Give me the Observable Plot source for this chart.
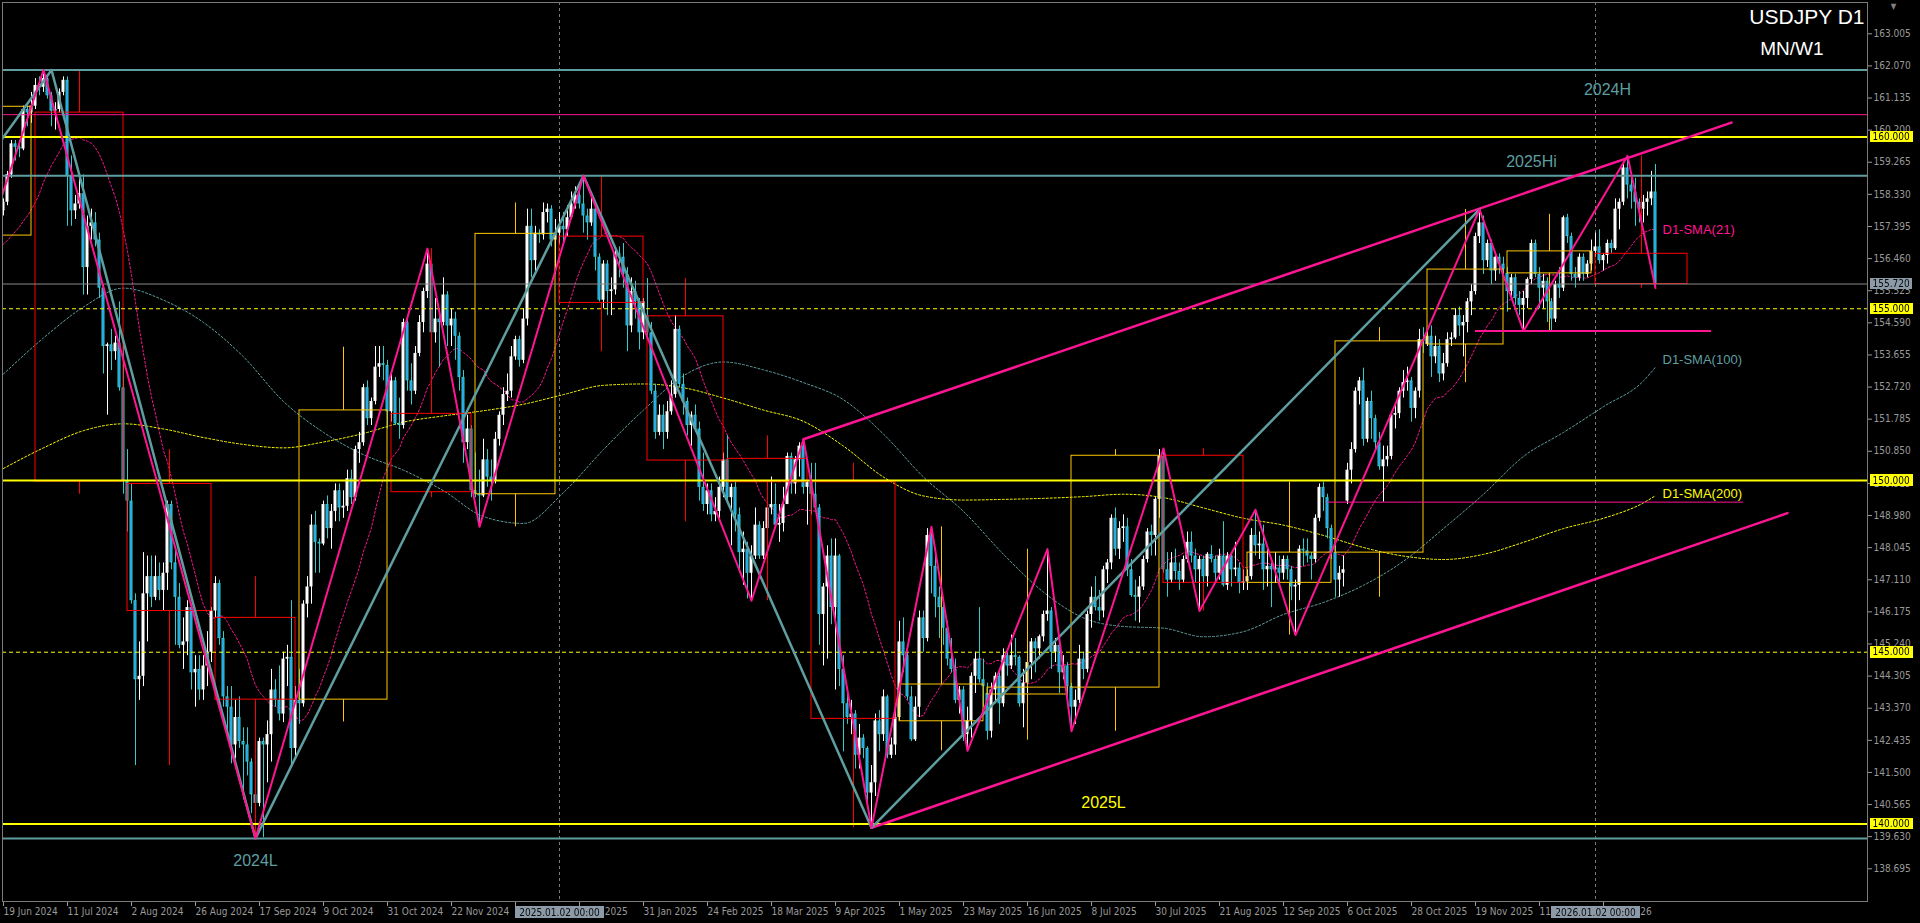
<!DOCTYPE html>
<html>
<head>
<meta charset="utf-8">
<script src="https://cdn.jsdelivr.net/npm/d3@7"></script>
<script src="https://cdn.jsdelivr.net/npm/@observablehq/plot@0.6"></script>
<style>
html,body{margin:0;padding:0;background:#000;overflow:hidden}
#chart svg{display:block}
g[aria-description="yellow-tags"] text{filter:url(#tagYellow)}
g[aria-description="gray-tags"] text{filter:url(#tagGray)}
</style>
</head>
<body>
<svg width="0" height="0" style="position:absolute">
<defs>
<filter id="tagYellow" x="-0.06" y="0.02" width="1.12" height="0.96"><feFlood flood-color="#ffff00" result="bg"/><feMerge><feMergeNode in="bg"/><feMergeNode in="SourceGraphic"/></feMerge></filter>
<filter id="tagGray" x="-0.05" y="0.02" width="1.1" height="0.96"><feFlood flood-color="#8d9aa8" result="bg"/><feMerge><feMergeNode in="bg"/><feMergeNode in="SourceGraphic"/></feMerge></filter>
</defs>
</svg>
<div id="chart"></div>
<script>
// ---------------- DATA ----------------
// Daily USDJPY candles: [date, open, high, low, close]
const dailyOHLC = [
["2024-05-20",155.7,156.3,155.5,156.2],["2024-05-21",156.2,156.4,155.8,156.25],["2024-05-22",156.25,156.8,156.0,156.8],["2024-05-23",156.8,157.2,156.6,156.95],["2024-05-24",156.95,157.2,156.8,157.0],
["2024-05-27",157.0,157.05,156.6,156.85],["2024-05-28",156.85,157.3,156.7,157.2],["2024-05-29",157.2,157.7,157.1,157.6],["2024-05-30",157.6,157.65,156.4,156.8],["2024-05-31",156.8,157.3,156.6,157.25],
["2024-06-03",157.25,157.3,156.0,156.1],["2024-06-04",156.1,156.2,154.6,154.8],["2024-06-05",154.8,156.4,154.55,156.1],["2024-06-06",156.1,156.2,155.4,155.6],["2024-06-07",155.6,157.0,155.0,156.7],
["2024-06-10",156.7,157.2,156.6,157.0],["2024-06-11",157.0,157.2,156.8,157.1],["2024-06-12",157.1,157.3,155.7,156.7],["2024-06-13",156.7,157.2,156.5,157.05],["2024-06-14",157.05,158.3,156.5,157.4],
["2024-06-17",157.4,157.8,157.2,157.7],["2024-06-18",157.7,158.0,157.6,157.85],["2024-06-19",157.85,158.2,157.7,158.1],["2024-06-20",158.1,159.0,158.0,158.9],["2024-06-21",158.9,159.9,158.8,159.8],
["2024-06-24",159.8,159.9,159.3,159.7],["2024-06-25",159.7,159.9,159.4,159.65],["2024-06-26",159.65,160.9,159.6,160.8],["2024-06-27",160.8,160.9,160.3,160.7],["2024-06-28",160.7,161.3,160.4,160.9],
["2024-07-01",160.9,161.7,160.8,161.5],["2024-07-02",161.5,161.75,161.2,161.45],["2024-07-03",161.45,161.95,161.3,161.7],["2024-07-04",161.7,161.8,161.1,161.2],["2024-07-05",161.2,161.3,160.3,160.75],
["2024-07-08",160.75,161.0,160.2,160.8],["2024-07-09",160.8,161.4,160.7,161.3],["2024-07-10",161.3,161.75,161.2,161.65],["2024-07-11",161.65,161.75,157.4,158.85],["2024-07-12",158.85,159.45,157.4,157.85],
["2024-07-15",157.85,158.3,157.6,158.05],["2024-07-16",158.05,158.9,157.9,158.35],["2024-07-17",158.35,158.9,155.4,156.2],["2024-07-18",156.2,157.7,155.4,157.4],["2024-07-19",157.4,157.9,157.0,157.5],
["2024-07-22",157.5,157.8,156.8,157.0],["2024-07-23",157.0,157.2,155.3,155.6],["2024-07-24",155.6,155.7,153.1,153.9],["2024-07-25",153.9,154.0,151.9,153.95],["2024-07-26",153.95,154.4,153.2,153.75],
["2024-07-29",153.75,154.2,153.5,154.0],["2024-07-30",154.0,155.2,152.6,152.7],["2024-07-31",152.7,153.9,149.6,150.0],["2024-08-01",150.0,150.9,148.5,149.4],["2024-08-02",149.4,149.9,146.4,146.5],
["2024-08-05",146.5,146.7,141.7,144.2],["2024-08-06",144.2,145.3,143.6,144.3],["2024-08-07",144.3,147.9,144.0,146.7],["2024-08-08",146.7,147.8,145.3,147.2],["2024-08-09",147.2,147.8,146.3,146.6],
["2024-08-12",146.6,147.8,146.5,147.2],["2024-08-13",147.2,147.6,146.5,146.8],["2024-08-14",146.8,147.6,146.2,147.3],["2024-08-15",147.3,149.4,146.8,149.3],["2024-08-16",149.3,149.4,147.4,147.6],
["2024-08-19",147.6,148.0,145.2,146.6],["2024-08-20",146.6,147.0,145.1,145.2],["2024-08-21",145.2,146.0,144.5,145.3],["2024-08-22",145.3,146.5,144.9,146.3],["2024-08-23",146.3,146.4,143.9,144.4],
["2024-08-26",144.4,144.9,143.4,144.5],["2024-08-27",144.5,144.9,143.6,143.9],["2024-08-28",143.9,144.9,143.6,144.6],["2024-08-29",144.6,145.6,144.0,145.0],["2024-08-30",145.0,146.3,144.7,146.2],
["2024-09-02",146.2,147.2,146.0,147.0],["2024-09-03",147.0,147.1,145.2,145.4],["2024-09-04",145.4,145.6,143.4,143.7],["2024-09-05",143.7,144.0,142.7,143.4],["2024-09-06",143.4,144.0,141.75,142.3],
["2024-09-09",142.3,143.6,141.9,143.1],["2024-09-10",143.1,143.7,142.2,142.4],["2024-09-11",142.4,142.8,140.7,142.3],["2024-09-12",142.3,142.8,141.4,141.8],["2024-09-13",141.8,141.9,140.3,140.85],
["2024-09-16",140.85,141.0,139.58,140.6],["2024-09-17",140.6,142.5,140.5,142.4],["2024-09-18",142.4,142.5,139.6,142.3],["2024-09-19",142.3,143.0,141.2,142.6],["2024-09-20",142.6,144.5,141.8,143.9],
["2024-09-23",143.9,144.2,143.4,143.6],["2024-09-24",143.6,144.6,143.0,143.2],["2024-09-25",143.2,145.0,142.95,144.8],["2024-09-26",144.8,145.2,144.0,144.85],["2024-09-27",144.85,146.5,141.65,142.2],
["2024-09-30",142.2,144.0,141.9,143.6],["2024-10-01",143.6,144.5,142.9,143.5],["2024-10-02",143.5,146.5,143.4,146.4],["2024-10-03",146.4,147.2,146.0,146.9],["2024-10-04",146.9,149.0,146.4,148.7],
["2024-10-07",148.7,149.1,147.3,148.2],["2024-10-08",148.2,148.3,147.3,148.15],["2024-10-09",148.15,149.4,148.1,149.3],["2024-10-10",149.3,149.55,148.3,148.6],["2024-10-11",148.6,149.3,148.0,149.1],
["2024-10-14",149.1,149.9,148.8,149.7],["2024-10-15",149.7,149.9,148.8,149.2],["2024-10-16",149.2,149.7,148.9,149.25],["2024-10-17",149.25,150.3,149.1,150.05],["2024-10-18",150.05,150.3,149.3,149.5],
["2024-10-21",149.5,151.0,149.4,150.9],["2024-10-22",150.9,151.4,150.5,151.1],["2024-10-23",151.1,152.8,151.0,152.7],["2024-10-24",152.7,152.9,151.6,151.8],["2024-10-25",151.8,152.4,151.6,152.3],
["2024-10-28",152.3,153.9,152.2,153.3],["2024-10-29",153.3,153.9,153.0,153.4],["2024-10-30",153.4,153.9,152.9,153.35],["2024-10-31",153.35,153.5,151.5,152.0],["2024-11-01",152.0,153.1,151.7,152.9],
["2024-11-04",152.9,153.0,151.6,151.65],["2024-11-05",151.65,152.4,151.2,151.6],["2024-11-06",151.6,154.7,151.5,154.6],["2024-11-07",154.6,154.7,152.6,152.9],["2024-11-08",152.9,153.4,152.2,152.6],
["2024-11-11",152.6,153.9,152.5,153.7],["2024-11-12",153.7,154.8,153.6,154.6],["2024-11-13",154.6,155.6,154.3,155.5],["2024-11-14",155.5,156.75,155.3,156.3],["2024-11-15",156.3,156.4,153.9,154.3],
["2024-11-18",154.3,155.3,154.0,154.7],["2024-11-19",154.7,155.0,153.3,154.6],["2024-11-20",154.6,155.9,154.5,155.4],["2024-11-21",155.4,155.5,153.9,154.5],["2024-11-22",154.5,155.0,153.9,154.7],
["2024-11-25",154.7,154.9,153.5,154.2],["2024-11-26",154.2,154.3,152.6,153.0],["2024-11-27",153.0,153.2,150.5,151.1],["2024-11-28",151.1,151.9,150.9,151.5],["2024-11-29",151.5,151.6,149.5,149.7],
["2024-12-02",149.7,150.8,149.5,149.6],["2024-12-03",149.6,150.3,148.65,149.55],["2024-12-04",149.55,151.2,149.5,150.6],["2024-12-05",150.6,150.9,149.8,150.1],["2024-12-06",150.1,150.6,149.4,150.0],
["2024-12-09",150.0,151.4,149.9,151.2],["2024-12-10",151.2,152.0,151.0,151.9],["2024-12-11",151.9,152.7,151.6,152.5],["2024-12-12",152.5,153.1,152.3,152.6],["2024-12-13",152.6,153.9,152.4,153.6],
["2024-12-16",153.6,154.2,153.5,154.1],["2024-12-17",154.1,154.2,153.3,153.5],["2024-12-18",153.5,155.0,153.4,154.7],["2024-12-19",154.7,157.9,154.5,157.4],["2024-12-20",157.4,157.9,155.9,156.4],
["2024-12-23",156.4,157.4,156.0,157.2],["2024-12-24",157.2,157.3,156.9,157.15],["2024-12-26",157.15,158.08,157.0,157.8],["2024-12-27",157.8,158.05,157.5,157.9],["2024-12-30",157.9,158.0,156.8,157.0],
["2024-12-31",157.0,157.6,156.0,157.2],["2025-01-02",157.2,157.8,156.9,157.4],["2025-01-03",157.4,157.8,156.9,157.3],["2025-01-06",157.3,158.0,157.1,157.65],["2025-01-07",157.65,158.4,157.6,158.05],
["2025-01-08",158.05,158.55,157.9,158.3],["2025-01-09",158.3,158.4,157.9,158.05],["2025-01-10",158.05,158.87,157.2,157.7],["2025-01-13",157.7,157.9,157.0,157.5],["2025-01-14",157.5,158.2,157.4,157.9],
["2025-01-15",157.9,158.0,156.1,156.5],["2025-01-16",156.5,156.6,155.2,155.25],["2025-01-17",155.25,156.4,155.0,156.3],["2025-01-20",156.3,156.4,154.8,155.5],["2025-01-21",155.5,155.9,154.8,155.55],
["2025-01-22",155.55,156.8,155.4,156.6],["2025-01-23",156.6,156.8,155.9,156.5],["2025-01-24",156.5,156.9,155.6,156.0],["2025-01-27",156.0,156.2,153.75,154.5],["2025-01-28",154.5,155.9,154.3,155.5],
["2025-01-29",155.5,155.8,154.7,155.2],["2025-01-30",155.2,155.3,153.8,154.3],["2025-01-31",154.3,155.3,154.1,155.2],["2025-02-03",154.8,155.88,154.2,154.3],["2025-02-04",154.3,154.6,152.5,152.6],
["2025-02-05",152.6,152.8,151.2,151.4],["2025-02-06",151.4,152.2,151.3,151.9],["2025-02-07",151.9,152.2,150.9,151.4],["2025-02-10",151.4,152.3,151.2,152.0],["2025-02-11",152.0,152.9,151.9,152.5],
["2025-02-12",152.5,154.8,152.4,154.4],["2025-02-13",154.4,154.5,152.7,152.8],["2025-02-14",152.8,153.1,151.9,152.3],["2025-02-17",152.3,152.4,151.3,151.6],["2025-02-18",151.6,152.0,151.0,151.9],
["2025-02-19",151.9,152.2,151.4,151.5],["2025-02-20",151.5,151.7,149.4,149.8],["2025-02-21",149.8,150.8,149.1,149.3],["2025-02-24",149.3,149.9,149.0,149.7],["2025-02-25",149.7,149.9,148.8,149.0],
["2025-02-26",149.0,149.5,148.8,149.1],["2025-02-27",149.1,150.1,148.8,149.8],["2025-02-28",149.8,150.8,149.5,150.6],["2025-03-03",150.6,151.3,149.4,149.5],["2025-03-04",149.5,149.9,148.1,149.8],
["2025-03-05",149.8,150.0,148.5,149.0],["2025-03-06",149.0,149.2,147.3,147.9],["2025-03-07",147.9,148.5,146.95,148.0],["2025-03-10",148.0,148.2,146.55,147.3],["2025-03-11",147.3,148.1,146.5,147.8],
["2025-03-12",147.8,149.2,147.7,148.7],["2025-03-13",148.7,148.8,147.7,147.8],["2025-03-14",147.8,148.8,147.7,148.6],["2025-03-17",148.6,149.5,148.3,149.2],["2025-03-18",149.2,150.1,149.0,149.3],
["2025-03-19",149.3,149.9,148.6,148.7],["2025-03-20",148.7,149.3,148.2,148.75],["2025-03-21",148.75,149.8,148.5,149.3],["2025-03-24",149.3,150.8,149.3,150.7],["2025-03-25",150.7,150.8,149.6,149.9],
["2025-03-26",149.9,150.7,149.6,150.6],["2025-03-27",150.6,151.1,150.1,151.0],["2025-03-28",151.0,151.2,149.6,149.8],["2025-03-31",149.8,150.0,148.7,149.95],["2025-04-01",149.95,150.5,149.0,149.6],
["2025-04-02",149.6,150.5,149.1,149.2],["2025-04-03",149.2,149.3,145.2,146.1],["2025-04-04",146.1,147.0,144.6,146.9],["2025-04-07",146.9,148.1,144.8,147.8],["2025-04-08",147.8,148.3,145.8,146.3],
["2025-04-09",146.3,148.3,143.9,147.8],["2025-04-10",147.8,147.85,144.0,144.5],["2025-04-11",144.5,144.9,142.1,143.5],["2025-04-14",143.5,143.9,142.9,143.1],["2025-04-15",143.1,143.6,142.6,143.2],
["2025-04-16",143.2,143.3,141.6,142.0],["2025-04-17",142.0,142.9,141.6,142.5],["2025-04-18",142.5,142.6,141.9,142.2],["2025-04-21",142.2,142.25,140.6,140.9],["2025-04-22",140.9,141.7,139.89,141.2],
["2025-04-23",141.2,143.2,140.8,143.0],["2025-04-24",143.0,143.3,142.1,142.6],["2025-04-25",142.6,143.9,142.4,143.7],["2025-04-28",143.7,143.75,141.9,142.0],["2025-04-29",142.0,142.5,141.9,142.3],
["2025-04-30",142.3,143.5,142.0,143.1],["2025-05-01",143.1,145.9,143.0,145.3],["2025-05-02",145.3,146.0,144.4,144.9],["2025-05-05",144.9,145.0,143.6,143.7],["2025-05-06",143.7,144.0,142.4,142.45],
["2025-05-07",142.45,143.7,142.4,143.4],["2025-05-08",143.4,146.2,143.1,146.0],["2025-05-09",146.0,146.2,145.0,145.4],["2025-05-12",145.4,148.6,145.3,148.4],["2025-05-13",148.4,148.65,146.7,147.5],
["2025-05-14",147.5,147.9,146.0,146.6],["2025-05-15",146.6,146.9,145.4,146.3],["2025-05-16",146.3,146.4,145.2,145.7],["2025-05-19",145.7,145.9,144.6,144.8],["2025-05-20",144.8,145.4,144.4,144.5],
["2025-05-21",144.5,144.8,143.5,143.6],["2025-05-22",143.6,144.0,143.2,143.9],["2025-05-23",143.9,144.0,142.4,142.6],["2025-05-26",142.6,143.4,142.13,143.0],["2025-05-27",143.0,144.4,142.5,144.3],
["2025-05-28",144.3,145.0,143.8,144.8],["2025-05-29",144.8,146.3,144.1,144.2],["2025-05-30",144.2,144.8,143.4,144.0],["2025-06-02",143.8,144.1,142.44,142.7],["2025-06-03",142.7,144.1,142.5,143.9],
["2025-06-04",143.9,144.4,143.5,144.3],["2025-06-05",144.3,144.4,142.9,143.5],["2025-06-06",143.5,145.1,143.4,144.9],["2025-06-09",144.9,145.0,144.3,144.6],["2025-06-10",144.6,145.5,144.5,144.9],
["2025-06-11",144.9,145.4,144.6,144.85],["2025-06-12",144.85,144.9,143.4,143.5],["2025-06-13",143.5,144.5,142.8,144.1],["2025-06-16",144.1,144.8,143.8,144.7],["2025-06-17",144.7,145.4,144.2,145.3],
["2025-06-18",145.3,145.4,144.4,145.1],["2025-06-19",145.1,145.5,144.8,145.45],["2025-06-20",145.45,146.2,145.3,146.1],["2025-06-23",146.1,148.0,145.9,146.2],["2025-06-24",146.2,146.3,144.5,145.0],
["2025-06-25",145.0,145.4,144.7,145.2],["2025-06-26",145.2,145.3,143.8,144.4],["2025-06-27",144.4,144.9,144.2,144.6],["2025-06-30",144.6,144.7,143.6,144.0],["2025-07-01",144.0,144.1,142.7,143.4],
["2025-07-02",143.4,143.9,142.9,143.6],["2025-07-03",143.6,145.2,143.5,144.8],["2025-07-04",144.8,145.0,144.2,144.5],["2025-07-07",144.5,146.2,144.4,146.1],["2025-07-08",146.1,146.9,145.7,146.6],
["2025-07-09",146.6,147.2,146.2,146.3],["2025-07-10",146.3,146.8,145.9,146.2],["2025-07-11",146.2,147.5,146.0,147.4],["2025-07-14",147.4,147.7,147.0,147.6],["2025-07-15",147.6,149.0,147.4,148.9],
["2025-07-16",148.9,149.2,147.8,148.0],["2025-07-17",148.0,148.8,147.7,148.6],["2025-07-18",148.6,149.0,148.2,148.65],["2025-07-21",148.65,148.9,147.2,147.4],["2025-07-22",147.4,147.7,146.6,146.65],
["2025-07-23",146.65,147.1,145.9,146.6],["2025-07-24",146.6,147.2,145.85,146.9],["2025-07-25",146.9,147.8,146.8,147.7],["2025-07-28",147.7,148.6,147.6,148.5],["2025-07-29",148.5,148.7,147.8,148.4],
["2025-07-30",148.4,149.5,147.8,149.45],["2025-07-31",149.45,150.9,148.9,150.7],["2025-08-01",150.7,150.93,147.3,147.4],["2025-08-04",147.4,147.9,146.6,147.1],["2025-08-05",147.1,147.9,147.0,147.6],
["2025-08-06",147.6,148.0,147.1,147.35],["2025-08-07",147.35,147.6,146.8,147.1],["2025-08-08",147.1,147.8,147.0,147.7],["2025-08-11",147.7,148.5,147.6,148.2],["2025-08-12",148.2,148.5,147.6,147.8],
["2025-08-13",147.8,148.0,147.0,147.4],["2025-08-14",147.4,147.8,146.2,147.7],["2025-08-15",147.7,147.8,146.8,147.2],["2025-08-18",147.2,147.9,146.9,147.85],["2025-08-19",147.85,148.1,147.6,147.7],
["2025-08-20",147.7,147.8,147.0,147.3],["2025-08-21",147.3,148.0,147.1,147.8],["2025-08-22",147.8,148.8,146.9,146.95],["2025-08-25",146.95,147.9,146.8,147.8],["2025-08-26",147.8,147.9,146.9,147.4],
["2025-08-27",147.4,148.2,147.2,147.45],["2025-08-28",147.45,147.6,146.7,147.0],["2025-08-29",147.0,147.4,146.8,147.05],["2025-09-01",147.05,147.4,146.8,147.2],["2025-09-02",147.2,148.6,147.1,148.4],
["2025-09-03",148.4,149.15,147.8,148.1],["2025-09-04",148.1,148.5,147.7,148.15],["2025-09-05",148.15,148.7,146.8,147.4],["2025-09-08",147.4,148.0,146.9,147.5],["2025-09-09",147.5,147.6,146.3,147.4],
["2025-09-10",147.4,147.9,147.0,147.45],["2025-09-11",147.45,147.8,147.0,147.3],["2025-09-12",147.3,147.8,147.1,147.7],["2025-09-15",147.7,147.8,147.1,147.4],["2025-09-16",147.4,147.5,146.5,146.9],
["2025-09-17",146.9,147.1,145.5,146.95],["2025-09-18",146.95,148.1,146.5,148.0],["2025-09-19",148.0,148.3,147.5,147.95],["2025-09-22",147.95,148.3,147.6,147.8],["2025-09-23",147.8,147.9,147.1,147.7],
["2025-09-24",147.7,149.0,147.6,148.9],["2025-09-25",148.9,149.9,148.8,149.8],["2025-09-26",149.8,149.95,149.1,149.5],["2025-09-29",149.5,149.6,148.3,148.6],["2025-09-30",148.6,148.7,147.7,147.9],
["2025-10-01",147.9,148.1,146.6,147.1],["2025-10-02",147.1,147.5,146.6,147.3],["2025-10-03",147.3,147.8,146.9,147.4],["2025-10-06",149.4,150.5,149.3,150.3],["2025-10-07",150.3,151.1,149.9,150.9],
["2025-10-08",150.9,152.7,150.8,152.6],["2025-10-09",152.6,153.0,152.2,152.9],["2025-10-10",152.9,153.27,151.0,151.2],["2025-10-13",151.2,152.4,151.1,152.3],["2025-10-14",152.3,152.6,151.2,151.8],
["2025-10-15",151.8,151.9,150.9,151.1],["2025-10-16",151.1,151.4,150.3,150.4],["2025-10-17",150.4,151.0,149.37,150.6],["2025-10-20",150.6,151.0,150.4,150.7],["2025-10-21",150.7,152.0,150.6,151.9],
["2025-10-22",151.9,152.2,151.5,151.95],["2025-10-23",151.95,152.7,151.8,152.6],["2025-10-24",152.6,153.2,152.4,152.85],["2025-10-27",152.85,153.3,152.6,152.9],["2025-10-28",152.9,153.0,151.7,152.1],
["2025-10-29",152.1,152.7,151.8,152.6],["2025-10-30",152.6,154.4,152.4,154.1],["2025-10-31",154.1,154.45,153.7,154.05],["2025-11-03",153.96,154.4,153.9,154.2],["2025-11-04",154.2,154.5,153.0,153.6],
["2025-11-05",153.6,154.2,153.4,153.9],["2025-11-06",153.9,154.1,152.85,153.1],["2025-11-07",153.1,153.7,152.9,153.4],["2025-11-10",153.4,154.3,153.3,154.1],["2025-11-11",154.1,154.3,153.9,154.15],
["2025-11-12",154.15,155.0,154.1,154.8],["2025-11-13",154.8,155.05,154.2,154.5],["2025-11-14",154.5,154.8,153.6,154.6],["2025-11-17",154.6,155.3,154.3,155.2],["2025-11-18",155.2,155.7,154.8,155.5],
["2025-11-19",155.5,157.2,155.4,157.1],["2025-11-20",157.1,157.89,156.9,157.5],["2025-11-21",157.5,157.7,156.0,156.4],["2025-11-24",156.4,157.0,156.2,156.9],["2025-11-25",156.9,157.0,155.7,156.1],
["2025-11-26",156.1,156.6,155.8,156.5],["2025-11-27",156.5,156.6,156.0,156.3],["2025-11-28",156.3,156.5,155.9,156.14],["2025-12-01",156.03,156.2,154.9,155.5],["2025-12-02",155.5,156.0,155.3,155.9],
["2025-12-03",155.9,156.0,155.1,155.3],["2025-12-04",155.3,155.5,154.8,155.1],["2025-12-05",155.1,155.5,154.35,155.3],["2025-12-08",155.3,155.9,155.0,155.85],["2025-12-09",155.85,157.0,155.7,156.9],
["2025-12-10",156.9,157.0,155.9,156.0],["2025-12-11",156.0,156.2,155.0,155.6],["2025-12-12",155.6,156.0,155.0,155.8],["2025-12-15",155.8,155.9,154.6,155.2],["2025-12-16",155.2,155.3,154.35,154.7],
["2025-12-17",154.7,155.8,154.6,155.7],["2025-12-18",155.7,156.2,155.3,155.6],["2025-12-19",155.6,157.7,155.5,157.65],["2025-12-22",157.65,157.75,156.9,157.1],["2025-12-23",157.1,157.2,155.8,156.0],
["2025-12-24",156.0,156.2,155.6,155.9],["2025-12-26",155.9,156.6,155.8,156.5],["2025-12-29",156.5,156.6,155.8,156.0],["2025-12-30",156.0,156.4,155.9,156.3],["2025-12-31",156.3,157.0,156.1,156.67],
["2026-01-02",156.67,157.2,156.5,156.8],["2026-01-05",156.8,157.3,156.3,156.4],["2026-01-06",156.4,156.6,156.1,156.55],["2026-01-07",156.55,157.0,156.3,156.9],["2026-01-08",156.9,157.0,156.6,156.75],
["2026-01-09",156.75,158.2,156.7,157.9],["2026-01-12",157.9,158.2,157.3,158.1],["2026-01-13",158.1,159.2,158.0,159.1],["2026-01-14",159.1,159.45,158.2,158.6],["2026-01-15",158.6,158.9,157.9,158.4],
["2026-01-16",158.4,158.8,157.4,158.1],["2026-01-19",158.1,158.2,157.5,157.9],["2026-01-20",157.9,158.3,157.5,158.1],["2026-01-21",158.1,158.4,157.7,158.2],["2026-01-22",158.2,159.0,158.0,158.4],
["2026-01-23",158.4,159.2,155.6,155.72]
];

// Monthly candles drawn as hollow boxes: [first day, last day, open, high, low, close]
const monthlyBoxes = [
["2024-06-03","2024-06-28",157.13,161.3,154.55,160.88],
["2024-07-01","2024-07-31",160.71,161.95,149.6,149.97],
["2024-08-01","2024-08-30",149.9,150.9,141.7,146.2],
["2024-09-02","2024-09-30",146.0,147.2,139.58,143.62],
["2024-10-01","2024-10-31",143.62,153.88,142.97,152.04],
["2024-11-01","2024-11-29",151.94,156.75,149.5,149.66],
["2024-12-02","2024-12-31",149.6,158.08,148.65,157.18],
["2025-01-02","2025-01-31",157.1,158.87,153.75,155.17],
["2025-02-03","2025-02-28",154.78,155.88,148.8,150.58],
["2025-03-03","2025-03-31",150.63,151.3,146.5,149.95],
["2025-04-01","2025-04-30",149.95,150.5,139.89,143.06],
["2025-05-01","2025-05-30",142.99,148.65,142.13,144.06],
["2025-06-02","2025-06-30",143.77,148.0,142.44,143.97],
["2025-07-01","2025-07-31",143.97,150.9,142.7,150.72],
["2025-08-01","2025-08-29",150.72,150.93,146.2,147.02],
["2025-09-01","2025-09-30",147.02,149.95,145.5,147.9],
["2025-10-01","2025-10-31",147.9,154.45,146.6,154.05],
["2025-11-03","2025-11-28",153.96,157.89,152.85,156.14],
["2025-12-01","2025-12-31",156.03,157.75,154.35,156.67],
["2026-01-02","2026-01-31",156.6,159.45,155.6,155.72]
];

// Horizontal levels
const tealLevels = [161.95, 158.87, 139.58];
const yellowSolidLevels = [160, 150, 140];
const yellowDashedLevels = [155, 145];
const pinkLevels = [160.65];
const bidPrice = 155.72;
const yellowTags = [160, 155, 150, 145, 140];

// Zigzags [date, price]
const pinkZigzag = [
["2024-06-04",154.55],["2024-07-03",161.95],["2024-09-16",139.58],["2024-11-14",156.75],["2024-12-03",148.65],
["2025-01-10",158.87],["2025-03-11",146.5],["2025-03-28",151.2],["2025-04-22",139.89],["2025-05-13",148.65],
["2025-05-26",142.13],["2025-06-23",148.0],["2025-07-01",142.7],["2025-08-01",150.93],["2025-08-14",146.2],
["2025-09-03",149.15],["2025-09-17",145.5],["2025-11-20",157.89],["2025-12-05",154.35],["2026-01-14",159.45],
["2026-01-23",155.6]
];
const tealZigzag = [
["2024-06-18",159.84],["2024-07-05",161.95],["2024-09-16",139.58],["2025-01-10",158.87],["2025-04-22",139.89],["2025-11-20",157.89]
];

// Rising channel
const channelUpper = [["2025-03-28",151.2],["2026-02-11",160.42]];
const channelLower = [["2025-04-22",139.89],["2026-02-25",149.05]];

// Short horizontal support segments [from, to, price, width]
const supportSegments = [["2025-11-19","2026-02-06",154.35,2],["2025-09-29","2026-02-14",149.37,1]];

// Moving averages (bars counted from 19 Jun 2024)
const smaBars   = [0,10,20,30,40,50,60,70,80,90,100,110,120,130,140,150,160,170,180,190,200,210,220,230,240,250,260,270,280,290,300,310,320,330,340,350,360,370,380,390,400,410,413];
const sma100Vals = [153.1,154.15,155.05,155.6,155.25,154.6,153.6,152.3,151.4,150.75,150.3,149.7,148.95,148.75,149.65,150.9,152.05,153.05,153.45,153.22,152.85,152.35,151.35,150.1,149.1,147.85,146.75,146.0,145.75,145.7,145.45,145.6,146.1,146.45,146.95,147.65,148.6,149.6,150.7,151.4,152.15,152.9,153.3];
const sma200Vals = [150.35,150.95,151.45,151.65,151.5,151.25,151.05,150.95,151.12,151.37,151.7,151.88,152.03,152.22,152.5,152.77,152.81,152.7,152.4,152.05,151.72,151.0,150.1,149.55,149.43,149.45,149.48,149.53,149.6,149.5,149.2,148.9,148.7,148.4,148.05,147.8,147.7,147.85,148.2,148.6,148.9,149.35,149.56];

// Text annotations [text, date, price]
const tealNotes = [["2024H","2026-01-07",161.37],["2025Hi","2025-12-09",159.27],["2024L","2024-09-16",138.93]];
const yellowNotes = [["2025L","2025-07-11",140.6]];
const smaLabels = [["D1-SMA(21)",157.3,"#ff1493"],["D1-SMA(100)",153.5,"#5f9ea0"],["D1-SMA(200)",149.6,"#ffff00"]];

// Axis ticks
const priceTicks = [163.005,162.070,161.135,160.200,159.265,158.330,157.395,156.460,155.525,154.590,153.655,152.720,151.785,150.850,149.915,148.980,148.045,147.110,146.175,145.240,144.305,143.370,142.435,141.500,140.565,139.630,138.695];
const dateTicks = ["2024-06-19","2024-07-11","2024-08-02","2024-08-26","2024-09-17","2024-10-09","2024-10-31","2024-11-22","2024-12-16","2025-01-09","2025-01-31","2025-02-24","2025-03-18","2025-04-09","2025-05-01","2025-05-23","2025-06-16","2025-07-08","2025-07-30","2025-08-21","2025-09-12","2025-10-06","2025-10-28","2025-11-19","2025-12-11","2026-01-06"];
const yearStarts = ["2025-01-02","2026-01-02"];

const symbolTitle = "USDJPY D1";
const subTitle = "MN/W1";

// ---------------- BAR INDEX ----------------
const parse = d3.utcParse("%Y-%m-%d");
const dates = dailyOHLC.map(d => d[0]);
const origin = dates.indexOf("2024-06-19");
const barOf = new Map(dates.map((d, k) => [d, k - origin]));
const lastDate = dates[dates.length - 1];
const lastBar = barOf.get(lastDate);
function bar(date) {
  if (barOf.has(date)) return barOf.get(date);
  const days = (parse(date) - parse(lastDate)) / 864e5;
  if (days > 0) return lastBar + days;           // future time: calendar days beyond the last bar
  const k = dates.findIndex(x => x > date);
  return k - origin;
}
const candles = dailyOHLC.map(([d, o, h, l, c]) => ({i: barOf.get(d), o, h, l, c, up: c >= o}));
const months = monthlyBoxes.map(([s, e, o, h, l, c]) => ({x1: bar(s), x2: bar(e), o, h, l, c, up: c >= o}));
const pts = arr => arr.map(([d, p]) => ({x: bar(d), y: p}));
const tickLabel = new Map(dateTicks.map(d => [bar(d), d3.utcFormat("%-d %b %Y")(parse(d))]));

const TEAL = "#5f9ea0", PINK = "#ff1493", YEL = "#ffff00", BOXY = "#ffc800", RED = "#ff0000";
const BEAR = "#1e90ff", BEARW = "#33cccc";
const textFont = "'Liberation Sans', Arial, sans-serif";
const axisFont = "'Liberation Sans Narrow','DejaVu Sans Condensed','Liberation Sans',sans-serif";

// tag marks: text with a solid background box (filter) plus a same-coloured halo as fallback
function tagFilter(id) {
  return function (index, scales, values, dimensions, context, next) {
    const g = next(index, scales, values, dimensions, context);
    if (g) d3.select(g).selectAll("text").attr("filter", `url(#${id})`);
    return g;
  };
}

const chart = Plot.plot({
  width: 1920, height: 923,
  marginLeft: 2, marginRight: 53, marginTop: 2, marginBottom: 22,
  style: {background: "#000", color: "#9a9a9a", fontFamily: axisFont, fontSize: "10px", overflow: "visible"},
  x: {type: "linear", domain: [-0.25, 466], axis: null},
  y: {type: "linear", domain: [137.743, 163.916], axis: null},
  marks: [
    // axes
    Plot.axisY({ticks: priceTicks, anchor: "right", tickFormat: d => d.toFixed(3), tickSize: 4, tickPadding: 2, fontSize: 10}),
    Plot.axisX({ticks: dateTicks.map(bar), anchor: "bottom", tickFormat: b => tickLabel.get(b), tickSize: 5, tickPadding: 1, textAnchor: "start", fontSize: 10}),
    // year separators
    Plot.ruleX(yearStarts, {x: d => bar(d), stroke: "#7a7a7a", strokeDasharray: "3,3", strokeWidth: 1}),
    // moving averages
    Plot.lineY(candles, Plot.windowY({k: 21, anchor: "end", reduce: "mean"}, {x: "i", y: "c", stroke: PINK, strokeWidth: 1, strokeDasharray: "2,2", clip: true})),
    Plot.line(smaBars, {x: d => d, y: (d, k) => sma100Vals[k], curve: "monotone-x", stroke: TEAL, strokeWidth: 1, strokeDasharray: "2,2", clip: true}),
    Plot.line(smaBars, {x: d => d, y: (d, k) => sma200Vals[k], curve: "monotone-x", stroke: YEL, strokeWidth: 1, strokeDasharray: "2,2", clip: true}),
    // daily candles
    Plot.ruleX(candles, {x: "i", y1: "l", y2: "h", stroke: d => d.up ? "#ffffff" : BEARW, strokeWidth: 1, clip: true}),
    Plot.rect(candles, {x1: d => d.i - 0.375, x2: d => d.i + 0.375, y1: "o", y2: "c", inset: 0.5,
      fill: d => d.up ? "#ffffff" : BEAR, stroke: d => d.up ? "#ffffff" : BEARW, strokeWidth: 1, clip: true}),
    // monthly boxes
    Plot.rect(months, {x1: "x1", x2: "x2", y1: "o", y2: "c", fill: "none", stroke: d => d.up ? BOXY : RED, strokeWidth: 1, clip: true}),
    Plot.ruleX(months, {x: d => (d.x1 + d.x2) / 2, y1: d => Math.max(d.o, d.c), y2: "h", stroke: d => d.up ? BOXY : RED, clip: true}),
    Plot.ruleX(months, {x: d => (d.x1 + d.x2) / 2, y1: "l", y2: d => Math.min(d.o, d.c), stroke: d => d.up ? BOXY : RED, clip: true}),
    // horizontal levels
    Plot.ruleY(pinkLevels, {stroke: PINK, strokeWidth: 1}),
    Plot.ruleY(tealLevels, {stroke: TEAL, strokeWidth: 2}),
    Plot.ruleY(yellowSolidLevels, {stroke: YEL, strokeWidth: 2}),
    Plot.ruleY(yellowDashedLevels, {stroke: YEL, strokeWidth: 1, strokeDasharray: "4,3"}),
    Plot.ruleY([bidPrice], {stroke: "#8a8a8a", strokeWidth: 1}),
    // support segments
    Plot.ruleY(supportSegments, {y: d => d[2], x1: d => bar(d[0]), x2: d => bar(d[1]), stroke: PINK, strokeWidth: d => d[3]}),
    // channel
    Plot.line(pts(channelUpper), {x: "x", y: "y", stroke: PINK, strokeWidth: 2.5, clip: true}),
    Plot.line(pts(channelLower), {x: "x", y: "y", stroke: PINK, strokeWidth: 2.5, clip: true}),
    // zigzags
    Plot.line(pts(tealZigzag), {x: "x", y: "y", stroke: TEAL, strokeWidth: 2.5, clip: true}),
    Plot.line(pts(pinkZigzag), {x: "x", y: "y", stroke: PINK, strokeWidth: 2, clip: true}),
    // notes
    Plot.text(tealNotes, {x: d => bar(d[1]), y: d => d[2], text: d => d[0], fill: TEAL, fontSize: 16, fontFamily: textFont, textAnchor: "middle", lineAnchor: "middle"}),
    Plot.text(yellowNotes, {x: d => bar(d[1]), y: d => d[2], text: d => d[0], fill: YEL, fontSize: 16, fontFamily: textFont, textAnchor: "middle", lineAnchor: "middle"}),
    Plot.text(smaLabels, {x: () => lastBar, y: d => d[1], text: d => d[0], fill: d => d[2], dx: 7, fontSize: 13, fontFamily: textFont, textAnchor: "start", lineAnchor: "middle"}),
    // title
    Plot.text([symbolTitle], {frameAnchor: "top-right", dx: -3, dy: 15, text: d => d, fill: "#ffffff", fontSize: 21, fontFamily: textFont, textAnchor: "end", lineAnchor: "middle"}),
    Plot.text([subTitle], {frameAnchor: "top-right", dx: -44, dy: 46, text: d => d, fill: "#ffffff", fontSize: 19, fontFamily: textFont, textAnchor: "end", lineAnchor: "middle"}),
    Plot.text(["\u25BC"], {frameAnchor: "top-right", dx: 26, dy: 4, text: d => d, fill: "#808080", fontSize: 8, textAnchor: "middle", lineAnchor: "middle"}),
    // axis tags
    Plot.text(yellowTags, {y: d => d, text: d => d.toFixed(3), frameAnchor: "right", dx: 5, textAnchor: "start", lineAnchor: "middle",
      fill: "#000", stroke: "#ffff00", strokeWidth: 4, strokeLinejoin: "miter", fontSize: 10, ariaDescription: "yellow-tags", render: tagFilter("tagYellow")}),
    Plot.text([bidPrice], {y: d => d, text: d => d.toFixed(3), frameAnchor: "right", dx: 5, textAnchor: "start", lineAnchor: "middle",
      fill: "#0a0a0a", stroke: "#8d9aa8", strokeWidth: 4, strokeLinejoin: "miter", fontSize: 10, ariaDescription: "gray-tags", render: tagFilter("tagGray")}),
    Plot.text(yearStarts, {x: d => bar(d), text: d => d3.utcFormat("%Y.%m.%d 00:00")(parse(d)), frameAnchor: "bottom", dy: 11, textAnchor: "middle", lineAnchor: "middle",
      fill: "#0a0a0a", stroke: "#8d9aa8", strokeWidth: 4, strokeLinejoin: "miter", fontSize: 10, ariaDescription: "gray-tags", render: tagFilter("tagGray")}),
    Plot.frame({stroke: "#7a7a7a"})
  ]
});
document.getElementById("chart").append(chart);
</script>
</body>
</html>
